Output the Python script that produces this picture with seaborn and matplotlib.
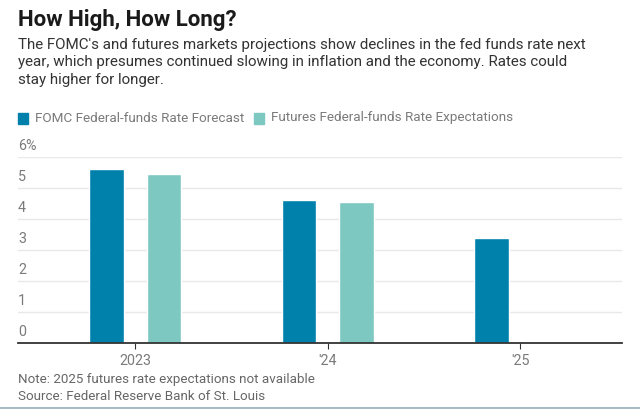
import pandas as pd
import matplotlib
matplotlib.use("Agg")
import matplotlib.pyplot as plt
import matplotlib.transforms as mtransforms
from matplotlib.lines import Line2D
from matplotlib.patches import Rectangle
import seaborn as sns

# data (percent)
years = ["2023", "'24", "'25"]
fomc_forecast = [5.6, 4.6, 3.4]
futures_expect = [5.45, 4.55, None]
series_names = ["FOMC Federal-funds Rate Forecast", "Futures Federal-funds Rate Expectations"]
y_ticks = [0, 1, 2, 3, 4, 5, 6]
y_labels = ["0", "1", "2", "3", "4", "5", "6%"]

colors = ["#0081AC", "#7EC8C2"]

df = pd.DataFrame({
    "year": years * 2,
    "series": [series_names[0]] * 3 + [series_names[1]] * 3,
    "rate": fomc_forecast + futures_expect,
}).dropna()

sns.set_theme(style="white")
plt.rcParams["font.family"] = ["Roboto", "DejaVu Sans"]

fig = plt.figure(figsize=(6.4, 4.09), dpi=100)
ax = fig.add_axes([0.028, 1 - 343 / 409, 0.944, (343 - 157) / 409])

sns.barplot(data=df, x="year", y="rate", hue="series", order=years,
            hue_order=series_names, palette=colors, width=0.6, gap=0.4,
            saturation=1, legend=False, ax=ax)

ax.set_xlim(-0.61, 2.53)
ax.set_ylim(0, 6)
ax.set_yticks(y_ticks)
ax.set_yticklabels([])
ax.tick_params(axis="y", length=0)
for v in y_ticks[1:]:
    ax.axhline(v, color="#e8e8e8", lw=1, zorder=0)
trans = mtransforms.blended_transform_factory(ax.transAxes, ax.transData)
for v, lab in zip(y_ticks, y_labels):
    ax.text(0.0, v + 0.12, lab, transform=trans, ha="left", va="bottom",
            fontsize=10.3, color="#7a7a7a")

ax.set_xlabel("")
ax.set_ylabel("")
ax.tick_params(axis="x", length=4, width=0.8, color="#333333", pad=4,
               labelsize=10.3, labelcolor="#7a7a7a", bottom=True)
for s in ["top", "right", "left"]:
    ax.spines[s].set_visible(False)
ax.spines["bottom"].set_color("#333333")
ax.spines["bottom"].set_linewidth(1.3)

# headline and dek
fig.text(18 / 640, 1 - 20 / 409, "How High, How Long?", fontsize=16,
         fontweight="bold", color="#1a1a1a", ha="left", va="center")
dek = ("The FOMC's and futures markets projections show declines in the fed funds rate next\n"
       "year, which presumes continued slowing in inflation and the economy. Rates could\n"
       "stay higher for longer.")
fig.text(18 / 640, 1 - 38 / 409, dek, fontsize=10.9, color="#333333",
         ha="left", va="top", linespacing=1.3)

# legend
lx = 18
for name, c in zip(series_names, colors):
    fig.add_artist(Rectangle((lx / 640, 1 - 124 / 409), 10 / 640, 11 / 409,
                             transform=fig.transFigure, color=c))
    t = fig.text((lx + 17) / 640, 1 - 118 / 409, name, fontsize=9.7,
                 color="#7a7a7a", ha="left", va="center")
    fig.canvas.draw()
    bb = t.get_window_extent()
    lx = bb.x1 + 10

fig.text(18 / 640, 1 - 380 / 409, "Note: 2025 futures rate expectations not available",
         fontsize=9.6, color="#666666", ha="left", va="center")
fig.text(18 / 640, 1 - 397 / 409, "Source: Federal Reserve Bank of St. Louis",
         fontsize=9.6, color="#666666", ha="left", va="center")
fig.add_artist(Line2D([0, 1], [1 - 407.5 / 409] * 2, transform=fig.transFigure,
                      color="#a9bcc4", lw=1.5))

fig.savefig("out.png", dpi=100)
